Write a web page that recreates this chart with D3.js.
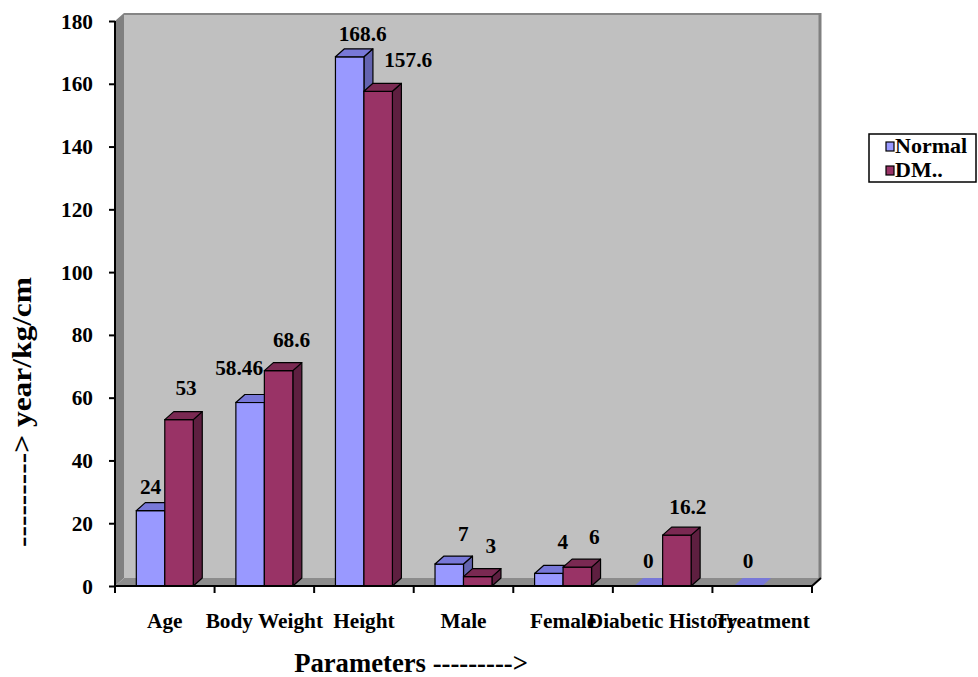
<!DOCTYPE html>
<html>
<head>
<meta charset="utf-8">
<script src="https://cdn.jsdelivr.net/npm/d3@7"></script>
<style>
  html, body { margin: 0; padding: 0; background: #ffffff; }
  svg { display: block; }
  text { font-family: "Liberation Serif", "Times New Roman", serif; font-weight: bold; fill: #000; }
</style>
</head>
<body>
<svg id="chart" width="978" height="677"></svg>
<script>
// Study parameters, normal subjects vs diabetic (DM) subjects
const categories = ["Age", "Body Weight", "Height", "Male", "Female", "Diabetic History", "Treatment"];
const seriesNames = ["Normal", "DM.."];
const normalValues = [24, 58.46, 168.6, 7, 4, 0, 0];
const dmValues = [53, 68.6, 157.6, 3, 6, 16.2, null];
const yTicks = [0, 20, 40, 60, 80, 100, 120, 140, 160, 180];

// Value-label nudges (dx from bar centre, dy from bar top) so labels clear each other
const labelShift = {
  "Normal": [[0, -17], [-11, -28], [13, -16], [14, -23], [14, -24], [0, -18], [0, -18]],
  "DM..":   [[7, -25], [13, -24], [30, -24], [13, -24], [17, -23], [11, -21], null]
};

const palette = {
  "Normal": { front: "#9999ff", top: "#7878d8", side: "#6464b0" },
  "DM..":   { front: "#993366", top: "#7a2952", side: "#5e1f40" }
};

const svg = d3.select("#chart");

// plot frame and 3D depth offset
const x0 = 115, x1 = 812, yBase = 586, yTop = 21;
const depth = { dx: 9, dy: -8 };

const y = d3.scaleLinear().domain([0, 180]).range([yBase, yTop]);
const xBand = d3.scaleBand().domain(categories).range([x0, x1]);
const groupW = xBand.bandwidth() * 0.572;
const xSub = d3.scaleBand().domain(seriesNames)
  .range([(xBand.bandwidth() - groupW) / 2, (xBand.bandwidth() + groupW) / 2]);

// walls and floor
const g = svg.append("g");
g.append("polygon")
  .attr("points", [[x0, yTop], [x0 + depth.dx, yTop + depth.dy], [x0 + depth.dx, yBase + depth.dy], [x0, yBase]].join(" "))
  .attr("fill", "#808080");
g.append("rect")
  .attr("x", x0 + depth.dx).attr("y", yTop + depth.dy)
  .attr("width", x1 - x0).attr("height", yBase - yTop)
  .attr("fill", "#c0c0c0");
g.append("line")
  .attr("x1", x0 + depth.dx).attr("x2", x1 + depth.dx)
  .attr("y1", yTop + depth.dy + 1).attr("y2", yTop + depth.dy + 1)
  .attr("stroke", "#858585").attr("stroke-width", 2);
g.append("line")
  .attr("x1", x1 + depth.dx - 1).attr("x2", x1 + depth.dx - 1)
  .attr("y1", yTop + depth.dy).attr("y2", yBase + depth.dy)
  .attr("stroke", "#808080").attr("stroke-width", 3);
g.append("polygon")
  .attr("points", [[x0, yBase], [x0 + depth.dx, yBase + depth.dy], [x1 + depth.dx, yBase + depth.dy], [x1, yBase]].join(" "))
  .attr("fill", "#8c8c8c");
g.append("line")
  .attr("x1", x1).attr("y1", yBase).attr("x2", x1 + depth.dx).attr("y2", yBase + depth.dy)
  .attr("stroke", "#000").attr("stroke-width", 2);

// bars
const series = [
  { name: "Normal", values: normalValues },
  { name: "DM..", values: dmValues }
];
const barsG = svg.append("g");
categories.forEach((cat, ci) => {
  series.forEach(s => {
    const v = s.values[ci];
    if (v === null || v === undefined) return;
    const c = palette[s.name];
    const bx = xBand(cat) + xSub(s.name);
    const bw = xSub.bandwidth();
    const ty = y(v);
    const { dx, dy } = depth;
    if (v > 0) {
      barsG.append("polygon")
        .attr("points", [[bx + bw, ty], [bx + bw + dx, ty + dy], [bx + bw + dx, yBase + dy], [bx + bw, yBase]].join(" "))
        .attr("fill", c.side).attr("stroke", "#000").attr("stroke-width", 1.2).attr("stroke-linejoin", "round");
      barsG.append("rect")
        .attr("x", bx).attr("y", ty).attr("width", bw).attr("height", yBase - ty)
        .attr("fill", c.front).attr("stroke", "#000").attr("stroke-width", 1.2);
    }
    barsG.append("polygon")
      .attr("points", [[bx, ty], [bx + dx, ty + dy], [bx + bw + dx, ty + dy], [bx + bw, ty]].join(" "))
      .attr("fill", c.top).attr("stroke", v > 0 ? "#000" : "none").attr("stroke-width", 1.2).attr("stroke-linejoin", "round");
  });
});

// value labels
const labelsG = svg.append("g");
categories.forEach((cat, ci) => {
  series.forEach(s => {
    const v = s.values[ci];
    const sh = labelShift[s.name][ci];
    if (v === null || v === undefined || !sh) return;
    const cx = xBand(cat) + xSub(s.name) + xSub.bandwidth() / 2;
    labelsG.append("text")
      .attr("x", cx + sh[0]).attr("y", y(v) + sh[1])
      .attr("text-anchor", "middle").attr("font-size", 21.3)
      .text(String(v));
  });
});

// y axis
const yAxis = d3.axisLeft(y).tickValues(yTicks).tickSize(6).tickPadding(16);
const yG = svg.append("g").attr("transform", `translate(${x0},0)`).call(yAxis);
yG.select(".domain").attr("stroke", "#000").attr("stroke-width", 2)
  .attr("d", `M0,${yTop}V${yBase}`);
yG.selectAll(".tick line").attr("stroke", "#000").attr("stroke-width", 2);
yG.selectAll(".tick text").attr("font-size", 21.3).attr("dy", "0.33em")
  .attr("font-family", "Liberation Serif, Times New Roman, serif").attr("font-weight", "bold");

// x axis
const xG = svg.append("g").attr("transform", `translate(0,${yBase})`);
xG.append("line").attr("x1", x0).attr("x2", x1).attr("y1", 0).attr("y2", 0)
  .attr("stroke", "#000").attr("stroke-width", 2);
d3.range(categories.length + 1).forEach(i => {
  const tx = x0 + i * xBand.step();
  xG.append("line").attr("x1", tx).attr("x2", tx).attr("y1", 0).attr("y2", 7)
    .attr("stroke", "#000").attr("stroke-width", 2);
});
xG.selectAll("text.cat").data(categories).join("text")
  .attr("class", "cat")
  .attr("x", d => xBand(d) + xBand.bandwidth() / 2)
  .attr("y", 42)
  .attr("text-anchor", "middle").attr("font-size", 21.3)
  .text(d => d);

// axis titles
svg.append("text")
  .attr("x", 411).attr("y", 672)
  .attr("text-anchor", "middle").attr("font-size", 26.7)
  .text("Parameters --------->");
svg.append("text")
  .attr("transform", "translate(31,412) rotate(-90)")
  .attr("text-anchor", "middle").attr("font-size", 28)
  .attr("textLength", 270).attr("lengthAdjust", "spacingAndGlyphs")
  .text("---------> year/kg/cm");

// legend
const lg = svg.append("g");
lg.append("rect").attr("x", 869).attr("y", 134).attr("width", 107).attr("height", 48)
  .attr("fill", "#fff").attr("stroke", "#000").attr("stroke-width", 1.5);
seriesNames.forEach((name, i) => {
  const ly = 153 + i * 24;
  lg.append("rect").attr("x", 886).attr("y", ly - 11).attr("width", 8).attr("height", 9)
    .attr("fill", palette[name].front).attr("stroke", "#000").attr("stroke-width", 1.2);
  lg.append("text").attr("x", 895).attr("y", ly).attr("font-size", 22).text(name);
});
</script>
</body>
</html>
